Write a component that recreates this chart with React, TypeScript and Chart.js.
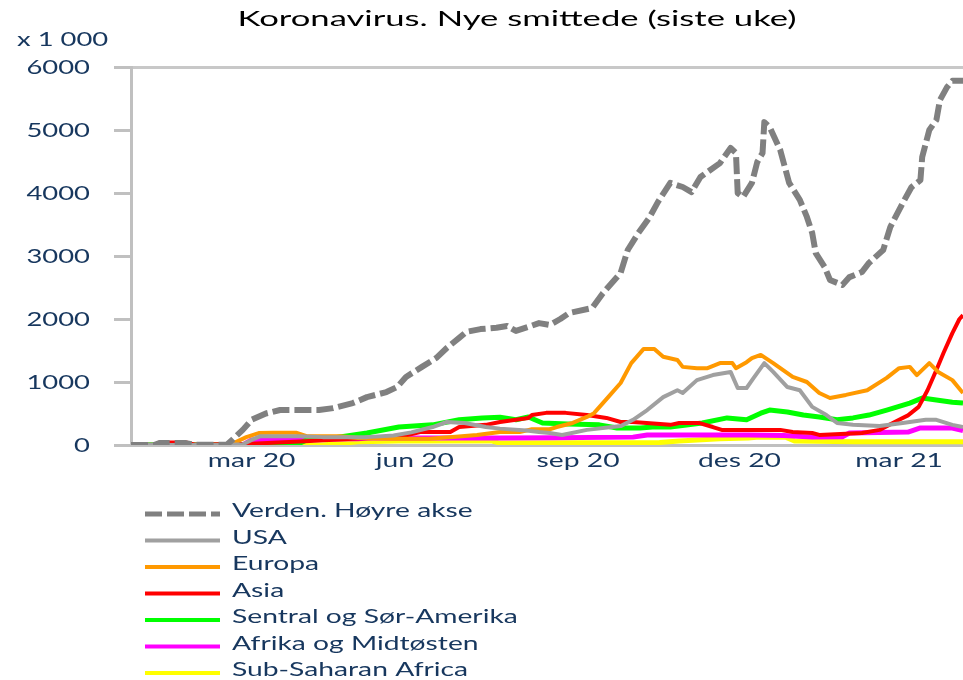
import React, { useEffect, useRef } from 'react';
import { Chart, registerables } from 'chart.js';

Chart.register(...registerables);

const TITLE = 'Koronavirus. Nye smittede (siste uke)';
const UNIT_LABEL = 'x 1 000';
const NAVY = '#17375E';
const FONT = 'Lato, "DejaVu Sans", sans-serif';

// x: days since 1 Jan 2020
const xMin = -8;
const xMax = 461;
const tickDays = [60, 152, 244, 335, 425];
const tickLabels = ['mar 20', 'jun 20', 'sep 20', 'des 20', 'mar 21'];
const yTickValues = [0, 1000, 2000, 3000, 4000, 5000, 6000];

const seriesNames = [
  'Verden. Høyre akse',
  'USA',
  'Europa',
  'Asia',
  'Sentral og Sør-Amerika',
  'Afrika og Midtøsten',
  'Sub-Saharan Africa',
];

const verdenDays = [-8, 5, 8, 23, 28, 46, 49, 55, 60, 68, 76, 87, 98, 106, 117, 125, 136, 142, 147, 156, 164, 170, 177, 181, 189, 198, 204, 209, 216, 222, 228, 234, 239, 252, 258, 268, 272, 278, 284, 289, 296, 303, 308, 313, 324, 330, 333, 334, 337, 342, 345, 348, 349, 352, 358, 363, 369, 373, 376, 378, 383, 386, 393, 397, 404, 408, 416, 420, 427, 432, 437, 438, 442, 446, 448, 452, 455, 461];
const verdenValues = [0, 0, 30, 30, 5, 5, 80, 240, 400, 500, 555, 555, 555, 585, 665, 760, 840, 920, 1080, 1240, 1380, 1540, 1700, 1795, 1840, 1860, 1890, 1810, 1875, 1935, 1905, 2000, 2095, 2175, 2410, 2730, 3095, 3365, 3600, 3855, 4160, 4095, 4015, 4255, 4475, 4715, 4635, 4000, 3935, 4160, 4490, 4635, 5125, 5045, 4680, 4160, 3890, 3620, 3365, 3045, 2825, 2620, 2540, 2665, 2745, 2890, 3095, 3460, 3840, 4095, 4205, 4570, 5000, 5160, 5475, 5680, 5780, 5780];

const usaDays = [-8, 45, 55, 60, 65, 87, 100, 125, 140, 150, 162, 170, 180, 192, 200, 215, 222, 228, 235, 249, 268, 275, 283, 292, 300, 303, 311, 320, 330, 334, 339, 343, 349, 354, 362, 369, 376, 384, 390, 399, 414, 427, 440, 446, 455, 461];
const usaValues = [0, 0, 10, 80, 140, 140, 125, 125, 150, 200, 285, 365, 350, 285, 260, 230, 205, 190, 160, 240, 300, 400, 555, 760, 870, 825, 1030, 1110, 1160, 905, 905, 1065, 1300, 1160, 920, 870, 605, 475, 350, 320, 300, 350, 400, 400, 320, 285];

const europaDays = [-8, 45, 49, 57, 64, 72, 85, 91, 110, 120, 140, 160, 175, 187, 200, 211, 218, 228, 232, 241, 249, 253, 261, 268, 274, 281, 287, 292, 300, 303, 311, 317, 324, 331, 333, 339, 342, 347, 354, 365, 373, 380, 386, 395, 407, 418, 425, 431, 435, 442, 447, 455, 461];
const europaValues = [0, 0, 20, 125, 190, 195, 195, 140, 140, 110, 100, 100, 130, 160, 205, 205, 250, 250, 285, 350, 445, 505, 760, 985, 1300, 1525, 1525, 1400, 1350, 1240, 1220, 1220, 1300, 1300, 1220, 1315, 1380, 1430, 1300, 1080, 1000, 825, 745, 795, 870, 1065, 1220, 1240, 1110, 1300, 1160, 1030, 825];

const asiaDays = [-8, 5, 8, 23, 28, 60, 90, 117, 143, 155, 172, 177, 192, 200, 216, 218, 226, 237, 249, 260, 268, 275, 296, 301, 312, 320, 325, 358, 365, 376, 380, 404, 414, 425, 430, 436, 441, 446, 450, 455, 459, 461];
const asiaValues = [0, 0, 40, 40, 5, 20, 60, 100, 125, 205, 205, 285, 320, 365, 430, 475, 510, 510, 475, 430, 365, 365, 320, 350, 350, 285, 240, 240, 205, 190, 160, 190, 240, 400, 470, 605, 870, 1190, 1460, 1775, 2000, 2060];

const sorAmerikaDays = [-8, 85, 91, 106, 125, 143, 162, 177, 190, 200, 209, 216, 224, 238, 256, 266, 279, 286, 296, 314, 328, 339, 347, 352, 362, 371, 380, 390, 399, 408, 418, 431, 438, 446, 455, 461];
const sorAmerikaValues = [0, 0, 80, 110, 190, 285, 320, 400, 430, 440, 400, 445, 350, 335, 320, 270, 270, 285, 285, 350, 430, 400, 505, 555, 525, 475, 445, 400, 430, 475, 555, 665, 745, 715, 680, 665];

const afrikaMoDays = [-8, 55, 60, 120, 125, 200, 230, 275, 283, 340, 360, 376, 393, 397, 430, 437, 455, 461];
const afrikaMoValues = [0, 0, 80, 100, 110, 110, 115, 125, 160, 160, 150, 125, 130, 190, 205, 270, 270, 230];

const subSaharaDays = [-8, 100, 120, 143, 195, 200, 290, 301, 324, 340, 346, 361, 366, 400, 461];
const subSaharaValues = [0, 0, 50, 65, 65, 30, 40, 65, 100, 110, 125, 125, 65, 50, 50];

const seriesDays = [verdenDays, usaDays, europaDays, asiaDays, sorAmerikaDays, afrikaMoDays, subSaharaDays];
const seriesValues = [verdenValues, usaValues, europaValues, asiaValues, sorAmerikaValues, afrikaMoValues, subSaharaValues];
const seriesColors = ['#808080', '#A0A0A0', '#FF9900', '#FF0000', '#00FF00', '#FF00FF', '#FFFF00'];
const seriesWidths = [6, 4, 4, 4, 5, 5, 5];
const legendWidths = [5, 4, 4, 4, 4, 4, 4];

// the reference text is horizontally stretched
let STRETCH = 1.35;
const SMALL_TEXT_FACTOR = 0.92;

function stretchedText(
  ctx: CanvasRenderingContext2D,
  text: string,
  x: number,
  y: number,
  align: CanvasTextAlign,
  sx: number,
) {
  ctx.save();
  ctx.translate(x, y);
  ctx.scale(sx, 1);
  ctx.textAlign = align;
  ctx.textBaseline = 'alphabetic';
  ctx.fillText(text, 0, 0);
  ctx.restore();
}

const textPlugin = {
  id: 'customTexts',
  afterDraw(chart: any) {
    const ctx = chart.ctx as CanvasRenderingContext2D;
    ctx.save();

    // title; stretch factor derived from the title's width in the reference
    ctx.font = `22px ${FONT}`;
    const w = ctx.measureText(TITLE).width;
    if (w > 0) STRETCH = 559 / w;
    ctx.fillStyle = '#000000';
    stretchedText(ctx, TITLE, 517, 26, 'center', STRETCH);

    const sx = STRETCH * SMALL_TEXT_FACTOR;
    ctx.fillStyle = NAVY;
    ctx.font = `19.5px ${FONT}`;
    stretchedText(ctx, UNIT_LABEL, 17, 46, 'left', sx * 0.97);

    // y tick labels
    const ys = chart.scales.y;
    yTickValues.forEach((v) => {
      stretchedText(ctx, String(v), 90, ys.getPixelForValue(v) + 7, 'right', sx * 0.97);
    });

    // x tick labels
    const xs = chart.scales.x;
    tickDays.forEach((d, i) => {
      stretchedText(ctx, tickLabels[i], xs.getPixelForValue(d), 467, 'center', sx);
    });

    // legend
    chart.data.datasets.forEach((ds: any, i: number) => {
      const y = 514 + i * 26.5;
      ctx.strokeStyle = ds.borderColor;
      ctx.lineWidth = legendWidths[i];
      ctx.lineCap = 'butt';
      ctx.setLineDash(ds.borderDash || []);
      ctx.beginPath();
      ctx.moveTo(145, y);
      ctx.lineTo(220, y);
      ctx.stroke();
      ctx.setLineDash([]);
      ctx.fillStyle = NAVY;
      stretchedText(ctx, ds.label, 232, y + 3, 'left', sx);
    });
    ctx.restore();
  },
};

export default function App() {
  const canvasRef = useRef<HTMLCanvasElement | null>(null);

  useEffect(() => {
    if (!canvasRef.current) return;
    const datasets = seriesNames.map((name, i) => ({
      label: name,
      data: seriesDays[i].map((d, j) => ({ x: d, y: seriesValues[i][j] })),
      borderColor: seriesColors[i],
      backgroundColor: seriesColors[i],
      borderWidth: seriesWidths[i],
      borderDash: i === 0 ? [17, 5] : undefined,
      borderCapStyle: 'butt' as const,
      borderJoinStyle: 'round' as const,
      pointRadius: 0,
      tension: 0,
      fill: false,
    }));

    const chart = new Chart(canvasRef.current, {
      type: 'line',
      data: { datasets },
      options: {
        animation: false,
        responsive: true,
        maintainAspectRatio: false,
        layout: { padding: { top: 67, left: 0, right: 0, bottom: 205 } },
        plugins: {
          legend: { display: false },
          title: { display: false },
          tooltip: { enabled: false },
        },
        scales: {
          x: {
            type: 'linear',
            min: xMin,
            max: xMax,
            afterBuildTicks: (scale: any) => {
              scale.ticks = tickDays.map((v) => ({ value: v }));
            },
            afterFit: (scale: any) => {
              scale.height = 30;
            },
            ticks: {
              autoSkip: false,
              maxRotation: 0,
              padding: 2,
              color: 'rgba(0,0,0,0)',
              font: { family: 'Lato', size: 19 },
              callback: (value: any) => {
                const idx = tickDays.indexOf(Number(value));
                return idx >= 0 ? tickLabels[idx] : '';
              },
            },
            grid: { display: false },
            border: { display: true, color: '#C0C0C0', width: 3 },
          },
          y: {
            type: 'linear',
            min: 0,
            max: 6000,
            afterBuildTicks: (scale: any) => {
              scale.ticks = yTickValues.map((v) => ({ value: v }));
            },
            afterFit: (scale: any) => {
              scale.width = 131;
            },
            ticks: {
              padding: 24,
              color: 'rgba(0,0,0,0)',
              font: { family: 'Lato', size: 19 },
              callback: (value: any) => String(value),
            },
            grid: {
              display: true,
              drawOnChartArea: true,
              drawTicks: true,
              tickLength: 17,
              lineWidth: 3,
              tickWidth: 3,
              tickColor: '#C0C0C0',
              color: (ctx: any) => (ctx.tick && ctx.tick.value === 6000 ? '#C8C8C8' : 'rgba(0,0,0,0)'),
            },
            border: { display: true, color: '#C0C0C0', width: 3 },
          },
        },
      },
      plugins: [textPlugin],
    });

    return () => {
      chart.destroy();
    };
  }, []);

  return (
    <div style={{ position: 'absolute', left: 0, top: 0, width: 963, height: 680, background: '#ffffff' }}>
      <canvas ref={canvasRef} />
    </div>
  );
}
